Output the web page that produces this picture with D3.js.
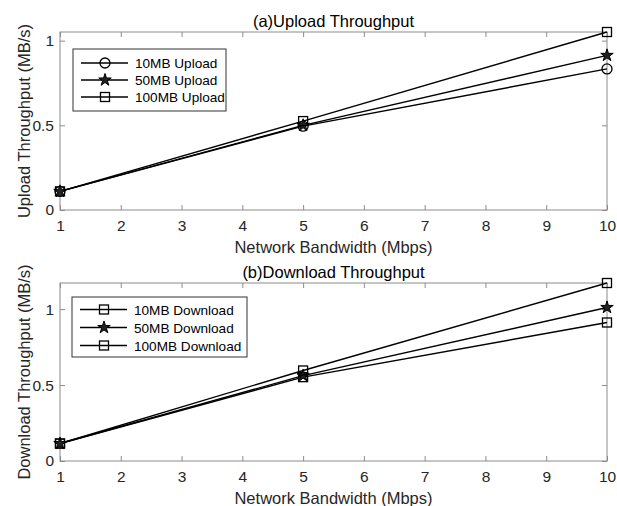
<!DOCTYPE html>
<html><head><meta charset="utf-8">
<script src="https://cdn.jsdelivr.net/npm/d3@7"></script>
<style>body{margin:0;background:#fff;}text{font-family:Arial,"Liberation Sans",sans-serif;}</style>
</head><body>
<svg id="c" width="617" height="506"></svg>
<script>
const bandwidth = [1, 5, 10];
const xTicks = [1,2,3,4,5,6,7,8,9,10];
const yTicks = [0, 0.5, 1];
const yTickLabels = ["0", "0.5", "1"];

const upload10 = [0.11, 0.495, 0.833];
const upload50 = [0.11, 0.50, 0.913];
const upload100 = [0.11, 0.525, 1.051];
const uploadNames = ["10MB Upload", "50MB Upload", "100MB Upload"];
const uploadMarkers = ["circle", "star", "square"];

const download10 = [0.115, 0.552, 0.912];
const download50 = [0.115, 0.562, 1.011];
const download100 = [0.115, 0.596, 1.172];
const downloadNames = ["10MB Download", "50MB Download", "100MB Download"];
const downloadMarkers = ["square", "star", "square"];

const svg = d3.select("#c");
const axisCol = "#8c8c8c", textCol = "#262626";

function marker(g, type, x, y) {
  if (type === "circle") {
    g.append("circle").attr("cx", x).attr("cy", y).attr("r", 5)
      .attr("fill", "none").attr("stroke", "#000").attr("stroke-width", 1.3);
  } else if (type === "square") {
    g.append("rect").attr("x", x - 4.5).attr("y", y - 4.5).attr("width", 9).attr("height", 9)
      .attr("fill", "none").attr("stroke", "#000").attr("stroke-width", 1.3);
  } else {
    const sym = d3.symbol().type(d3.symbolStar).size(48);
    g.append("path").attr("d", sym()).attr("transform", `translate(${x},${y})`)
      .attr("fill", "#222").attr("stroke", "#000").attr("stroke-width", 1);
  }
}

function panel(cfg) {
  const {top, bottom, title, ylabel, series, names, markers, legend} = cfg;
  const left = 60, right = 607;
  const yMax = d3.max(series.flat());
  const x = d3.scaleLinear().domain([1, 10]).range([left, right]);
  const y = d3.scaleLinear().domain([0, yMax]).range([bottom, top]);
  const g = svg.append("g");

  g.append("rect").attr("x", left).attr("y", top).attr("width", right - left).attr("height", bottom - top)
    .attr("fill", "none").attr("stroke", axisCol).attr("stroke-width", 1);

  const tl = 5;
  const style = sel => {
    sel.select(".domain").remove();
    sel.selectAll(".tick line").attr("stroke", axisCol);
    sel.selectAll(".tick text").attr("fill", textCol).style("font-size", "15.5px").style("font-family", "Arial, 'Liberation Sans', sans-serif");
  };
  g.append("g").attr("transform", `translate(0,${bottom})`)
    .call(d3.axisBottom(x).tickValues(xTicks).tickSizeInner(-tl).tickSizeOuter(0).tickPadding(10).tickFormat(d3.format("d")))
    .call(style);
  g.append("g").attr("transform", `translate(0,${top})`)
    .call(d3.axisTop(x).tickValues(xTicks).tickSizeInner(-tl).tickSizeOuter(0).tickFormat(""))
    .call(style);
  g.append("g").attr("transform", `translate(${left},0)`)
    .call(d3.axisLeft(y).tickValues(yTicks).tickSizeInner(-tl).tickSizeOuter(0).tickPadding(6).tickFormat((d, i) => yTickLabels[i]))
    .call(style);
  g.append("g").attr("transform", `translate(${right},0)`)
    .call(d3.axisRight(y).tickValues(yTicks).tickSizeInner(-tl).tickSizeOuter(0).tickFormat(""))
    .call(style);

  g.append("text").attr("x", (left + right) / 2).attr("y", top - 5).attr("text-anchor", "middle")
    .attr("fill", "#000").style("font-size", "16.5px").text(title);
  g.append("text").attr("x", (left + right) / 2).attr("y", bottom + 43).attr("text-anchor", "middle")
    .attr("fill", textCol).style("font-size", "16.5px").text("Network Bandwidth (Mbps)");
  g.append("text").attr("transform", `translate(30,${(top + bottom) / 2}) rotate(-90)`).attr("text-anchor", "middle")
    .attr("fill", textCol).style("font-size", "16.5px").text(ylabel);

  const line = d3.line().x((d, i) => x(bandwidth[i])).y(d => y(d));
  series.forEach(s => {
    g.append("path").datum(s).attr("d", line).attr("fill", "none").attr("stroke", "#000").attr("stroke-width", 1.4);
  });
  series.forEach((s, k) => {
    s.forEach((v, i) => marker(g, markers[k], x(bandwidth[i]), y(v)));
  });

  const L = legend;
  g.append("rect").attr("x", L.x).attr("y", L.y).attr("width", L.w).attr("height", L.h)
    .attr("fill", "#fff").attr("stroke", "#333").attr("stroke-width", 1);
  names.forEach((n, k) => {
    const ry = L.y + L.first + k * L.step;
    g.append("line").attr("x1", L.x + 8).attr("x2", L.x + 55).attr("y1", ry).attr("y2", ry)
      .attr("stroke", "#000").attr("stroke-width", 1.3);
    marker(g, markers[k], L.x + 32, ry);
    g.append("text").attr("x", L.x + 62).attr("y", ry + 5).attr("fill", "#000")
      .style("font-size", "13.6px").text(n);
  });
}

panel({top: 32, bottom: 210, title: "(a)Upload Throughput", ylabel: "Upload Throughput (MB/s)",
  series: [upload10, upload50, upload100], names: uploadNames, markers: uploadMarkers,
  legend: {x: 73, y: 49, w: 153, h: 62, first: 14, step: 17}});
panel({top: 283, bottom: 461, title: "(b)Download Throughput", ylabel: "Download Throughput (MB/s)",
  series: [download10, download50, download100], names: downloadNames, markers: downloadMarkers,
  legend: {x: 72, y: 297, w: 175, h: 60, first: 12.5, step: 18}});
</script>
</body></html>
